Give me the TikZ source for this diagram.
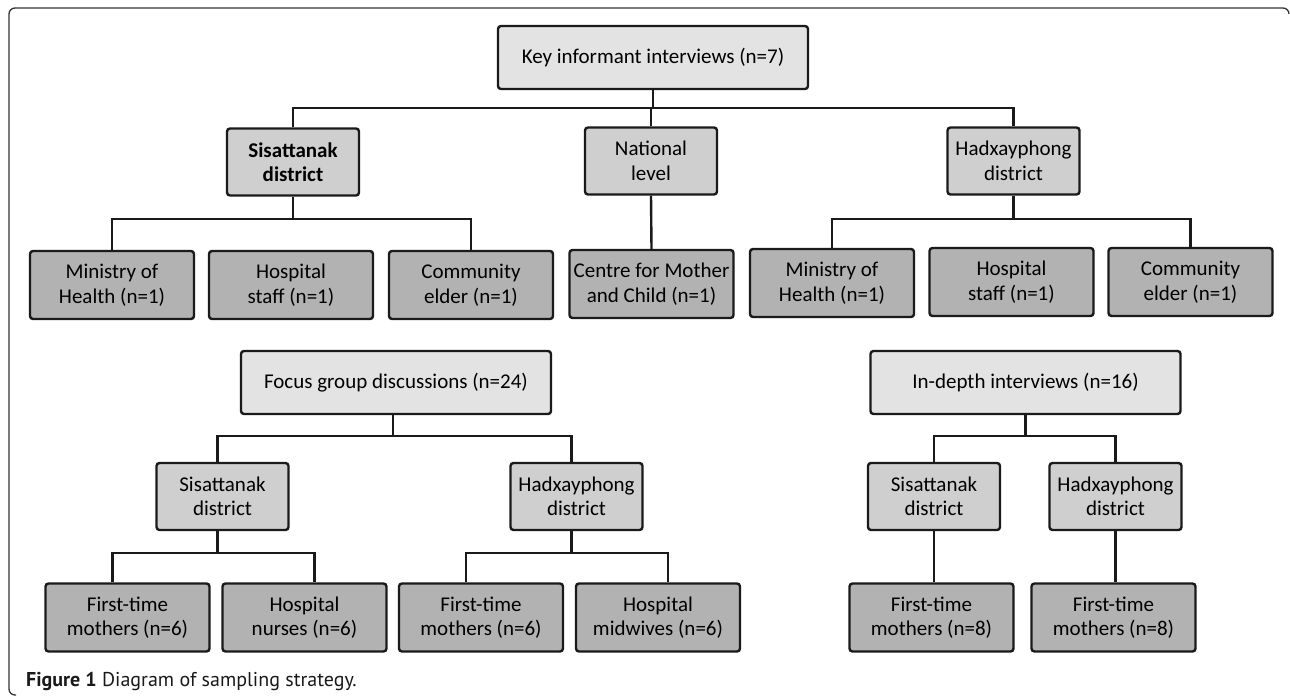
\documentclass[tikz,border=0pt]{standalone}
\usepackage{fontspec}
\setmainfont{Carlito}
\newfontfamily\capfont{PT Sans}
\definecolor{ctop}{HTML}{E3E3E3}
\definecolor{cmid}{HTML}{CFCFCF}
\definecolor{cleaf}{HTML}{B2B2B2}
\definecolor{cline}{HTML}{1A1A1A}
\tikzset{
  box/.style={draw=cline, line width=2.4pt, rounded corners=3pt, align=center, inner sep=0pt,
    font=\fontsize{21}{24.5}\selectfont, text=black},
  topbox/.style={box, fill=ctop, minimum width=310pt, minimum height=63pt},
  midbox/.style={box, fill=cmid, minimum width=132pt, minimum height=67pt},
  leafbox/.style={box, fill=cleaf, minimum width=164pt, minimum height=68pt},
  link/.style={line width=2.4pt, draw=cline},
}
\begin{document}
\begin{tikzpicture}[x=1pt,y=-1pt]
\useasboundingbox (0,0) rectangle (1290,696);
% frame
\draw[line width=1.3pt, black!80, rounded corners=6pt] (16,695) -- (9,695) -- (9,8) -- (1289,8) -- (1289,14);

% bus levels
\coordinate (busA) at (0,108);
\coordinate (busB) at (0,219);
\coordinate (busC) at (0,436);
\coordinate (busD) at (0,553);

% Key informant interviews
\node[topbox] (ki) at (653,57.5) {Key informant interviews (n=7)};
\node[midbox] (sisK) at (293,162) {\textbf{Sisattanak}\\\textbf{district}};
\node[midbox] (nat) at (651,161) {National\\level};
\node[midbox] (hadK) at (1013.5,161) {Hadxayphong\\district};
\node[leafbox] (mohL) at (112,285) {Ministry of\\Health (n=1)};
\node[leafbox] (hosL) at (291,285) {Hospital\\staff (n=1)};
\node[leafbox] (comL) at (471,285) {Community\\elder (n=1)};
\node[leafbox] (cen) at (651.5,284) {Centre for Mother\\and Child (n=1)};
\node[leafbox] (mohR) at (832,283) {Ministry of\\Health (n=1)};
\node[leafbox] (hosR) at (1011.5,282) {Hospital\\staff (n=1)};
\node[leafbox] (comR) at (1190.5,282) {Community\\elder (n=1)};

\draw[link] (ki.south) -- (ki.south |- busA);
\draw[link] (sisK.north) |- (busA -| hadK.north) -- (hadK.north);
\draw[link] (nat.north) -- (nat.north |- busA);
\draw[link] (sisK.south) -- (sisK.south |- busB);
\draw[link] (mohL.north) |- (busB -| comL.north) -- (comL.north);
\draw[link] (nat.south) -- (cen.north);
\draw[link] (hadK.south) -- (hadK.south |- busB);
\draw[link] (mohR.north) |- (busB -| comR.north) -- (comR.north);

% Focus group discussions
\node[topbox] (fgd) at (396,382.5) {Focus group discussions (n=24)};
\node[midbox] (sisF) at (222.5,496.5) {Sisattanak\\district};
\node[midbox] (hadF) at (576.5,496.5) {Hadxayphong\\district};
\node[leafbox] (ftmF1) at (127.5,617.5) {First-time\\mothers (n=6)};
\node[leafbox] (nurF) at (304.5,617.5) {Hospital\\nurses (n=6)};
\node[leafbox] (ftmF2) at (481,617.5) {First-time\\mothers (n=6)};
\node[leafbox] (midF) at (658,617.5) {Hospital\\midwives (n=6)};

\coordinate (fgdS) at ([xshift=-3pt]fgd.south);
\coordinate (sisFn) at ([xshift=-5pt]sisF.north);
\coordinate (sisFs) at ([xshift=-5pt]sisF.south);
\coordinate (hadFn) at ([xshift=-5pt]hadF.north);
\coordinate (hadFs) at ([xshift=-5pt]hadF.south);
\coordinate (ftmF1n) at ([xshift=-15pt]ftmF1.north);
\coordinate (nurFn) at ([xshift=10pt]nurF.north);
\coordinate (ftmF2n) at ([xshift=-15pt]ftmF2.north);
\coordinate (midFn) at ([xshift=10pt]midF.north);

\draw[link] (fgdS) -- (fgdS |- busC);
\draw[link] (sisFn) |- (busC -| hadFn) -- (hadFn);
\draw[link] (sisFs) -- (sisFs |- busD);
\draw[link] (ftmF1n) |- (busD -| nurFn) -- (nurFn);
\draw[link] (hadFs) -- (hadFs |- busD);
\draw[link] (ftmF2n) |- (busD -| midFn) -- (midFn);

% In-depth interviews
\node[topbox] (idi) at (1025.5,382.5) {In-depth interviews (n=16)};
\node[midbox] (sisI) at (934,496.5) {Sisattanak\\district};
\node[midbox] (hadI) at (1115.5,496.5) {Hadxayphong\\district};
\node[leafbox] (ftmI1) at (931.5,617.5) {First-time\\mothers (n=8)};
\node[leafbox] (ftmI2) at (1113.5,617.5) {First-time\\mothers (n=8)};

\draw[link] (idi.south) -- (idi.south |- busC);
\draw[link] (sisI.north) |- (busC -| hadI.north) -- (hadI.north);
\draw[link] (sisI.south) -- (sisI.south |- ftmI1.north);
\draw[link] (hadI.south) -- (hadI.south |- ftmI2.north);

% caption
\node[anchor=base west, inner sep=0pt, font=\capfont\fontsize{20}{24}\selectfont, text=black!90] (cap) at (26,686)
  {\textbf{Figure 1} Diagram of sampling strategy.};
\end{tikzpicture}
\end{document}
